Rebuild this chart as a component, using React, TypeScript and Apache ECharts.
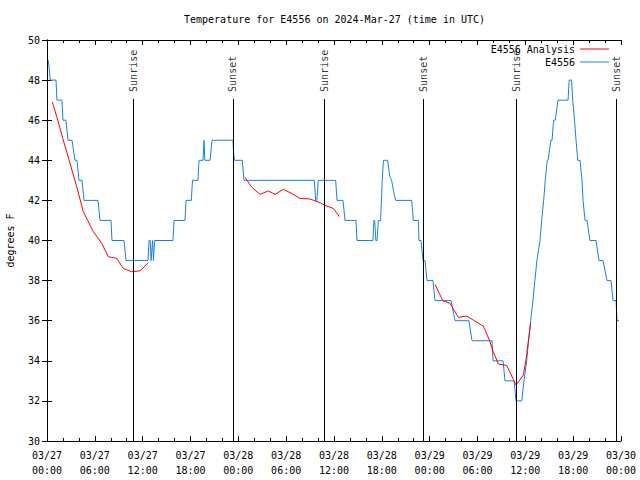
import React, { useEffect, useRef } from "react";
import * as echarts from "echarts";

const FONT = '"DejaVu Sans Mono", "Liberation Mono", monospace';

const titleText = "Temperature for E4556 on 2024-Mar-27 (time in UTC)";
const yAxisName = "degrees F";
const analysisName = "E4556 Analysis";
const obsName = "E4556";

const xTickLabels = [
  "03/27\n00:00", "03/27\n06:00", "03/27\n12:00", "03/27\n18:00",
  "03/28\n00:00", "03/28\n06:00", "03/28\n12:00", "03/28\n18:00",
  "03/29\n00:00", "03/29\n06:00", "03/29\n12:00", "03/29\n18:00",
  "03/30\n00:00",
];

// hours since 2024-03-27 00:00 UTC
const sunTimes = [10.79, 23.33, 34.75, 47.17, 58.83, 71.38];
const sunLabels = ["Sunrise", "Sunset", "Sunrise", "Sunset", "Sunrise", "Sunset"];

const obsData: [number, number][] = [
  [0.15, 49], [0.3, 48.5], [0.4, 48], [1.13, 48], [1.25, 47], [1.88, 47], [2.0, 46], [2.38, 46],
  [2.63, 45], [3.14, 45], [3.51, 44], [3.76, 44], [4.01, 43], [4.39, 43], [4.64, 42], [6.4, 42],
  [6.65, 41], [8.03, 41], [8.15, 40], [9.66, 40], [9.91, 39], [12.67, 39], [12.8, 40], [12.95, 40],
  [13.05, 39], [13.25, 40], [13.35, 39], [13.5, 40], [15.8, 40], [15.93, 41], [17.31, 41], [17.44, 42],
  [18.1, 42], [18.25, 43], [18.94, 43], [19.07, 44], [19.57, 44], [19.69, 45], [19.8, 44], [20.45, 44],
  [20.7, 45], [23.33, 45], [23.4, 44.4], [23.5, 44], [24.5, 44], [24.71, 43], [33.53, 43], [33.7, 42],
  [33.85, 42], [34.03, 43], [36.21, 43], [36.38, 42], [37.13, 42], [37.38, 41], [38.76, 41], [38.89, 40],
  [40.89, 40], [41.0, 41], [41.1, 41], [41.25, 40], [41.4, 40], [41.56, 41], [41.85, 41], [41.95, 42],
  [42.05, 43], [42.2, 44], [42.73, 44], [42.85, 43.6], [43.0, 43.2], [43.23, 43], [43.45, 42.5], [43.74, 42],
  [45.75, 42], [45.95, 41], [46.58, 41], [46.66, 40], [46.91, 40], [47.17, 39], [47.42, 39], [47.67, 38],
  [48.42, 38], [48.67, 37], [50.68, 37], [51.18, 36], [52.93, 36], [53.31, 35], [55.82, 35], [55.95, 34],
  [57.2, 34], [57.45, 33], [58.58, 33], [58.83, 32], [59.55, 32], [59.83, 33], [60.17, 34], [60.4, 35],
  [60.67, 36], [60.95, 37], [61.2, 38], [61.45, 39], [61.84, 40], [62.05, 41], [62.3, 42], [62.5, 43],
  [62.75, 44], [62.85, 44], [63.2, 45], [63.35, 45], [63.55, 46], [63.75, 46], [64.1, 47], [65.36, 47],
  [65.5, 48], [65.8, 48], [65.94, 47], [66.17, 46], [66.36, 45], [66.57, 44], [66.86, 44], [67.11, 43],
  [67.24, 42], [67.49, 41], [67.74, 41], [68.1, 40], [68.87, 40], [69.24, 39], [69.74, 39], [70.25, 38],
  [70.75, 38], [71.0, 37], [71.38, 37], [71.5, 36], [71.75, 36],
];

const analysisData: ([number, number] | [number, null])[] = [
  [0.66, 46.91], [1.22, 46.18], [2.04, 45.01], [2.89, 43.85], [3.73, 42.68], [4.55, 41.44],
  [5.81, 40.44], [6.86, 39.86], [7.69, 39.19], [8.74, 39.11], [9.57, 38.61], [10.62, 38.44],
  [11.67, 38.49], [12.71, 38.89],
  [18, null],
  [24.84, 43.15], [25.68, 42.65], [26.72, 42.3], [27.76, 42.47], [28.6, 42.3], [29.64, 42.55],
  [30.69, 42.35], [31.74, 42.1], [32.99, 42.07], [34.25, 41.88], [35.09, 41.72], [35.91, 41.6],
  [36.67, 41.19],
  [42, null],
  [48.67, 37.81], [49.64, 37.0], [50.55, 36.87], [51.59, 36.17], [52.65, 36.23], [53.47, 36.03],
  [54.73, 35.73], [55.48, 35.04], [55.98, 34.45], [56.61, 33.84], [57.66, 33.77], [58.49, 33.08],
  [58.83, 32.79], [59.75, 33.29], [60.08, 34.04], [60.67, 35.9],
];

const Y_MIN = 30;
const Y_MAX = 50;
const SUN_LINE_TOP = 47.06;
const SUN_LABEL_BASE = 47.41;

const RED = "#ff0000";
const BLUE = "#1a80e6";

export default function App() {
  const ref = useRef<HTMLDivElement>(null);

  useEffect(() => {
    if (!ref.current) return;
    const chart = echarts.init(ref.current, undefined, { renderer: "svg" });
    const txt = { fontFamily: FONT, fontSize: 10, color: "#000" };
    const axisLine = { show: true, lineStyle: { color: "#000", width: 1 } };

    const xBase = {
      type: "value" as const,
      min: 0,
      max: 72,
      interval: 6,
      axisLine,
      axisTick: { show: true, inside: true, length: 5, lineStyle: { color: "#000" } },
      minorTick: { show: true, splitNumber: 3, length: 3, lineStyle: { color: "#000" } },
      splitLine: { show: false },
      minorSplitLine: { show: false },
    };
    const yBase = {
      type: "value" as const,
      min: Y_MIN,
      max: Y_MAX,
      interval: 2,
      axisLine,
      axisTick: { show: true, inside: true, length: 5, lineStyle: { color: "#000" } },
      splitLine: { show: false },
    };

    const legendBase = {
      right: 31,
      padding: 0,
      itemWidth: 29,
      itemHeight: 1,
      icon: "rect",
      textStyle: txt,
      align: "right" as const,
    };

    chart.setOption({
      animation: false,
      backgroundColor: "#fff",
      title: {
        text: titleText,
        left: 184,
        top: 14,
        padding: 0,
        textStyle: { ...txt, fontWeight: "normal" },
      },
      legend: [
        { ...legendBase, data: [analysisName], top: 44 },
        { ...legendBase, data: [obsName], top: 57 },
      ],
      grid: {
        left: 47,
        top: 40,
        width: 574,
        height: 401,
        containLabel: false,
        outerBoundsMode: "none",
      },
      xAxis: [
        {
          ...xBase,
          position: "bottom",
          axisLabel: {
            ...txt,
            margin: 7,
            lineHeight: 15,
            formatter: (v: number) => xTickLabels[Math.round(v / 6)] ?? "",
          },
        },
        { ...xBase, position: "top", axisLabel: { show: false } },
      ],
      yAxis: [
        {
          ...yBase,
          position: "left",
          name: yAxisName,
          nameLocation: "middle",
          nameGap: 32,
          nameTextStyle: txt,
          axisLabel: { ...txt, margin: 7 },
        },
        { ...yBase, position: "right", axisLabel: { show: false } },
      ],
      series: [
        {
          name: analysisName,
          type: "line",
          data: analysisData,
          symbol: "none",
          connectNulls: false,
          lineStyle: { color: RED, width: 1 },
          itemStyle: { color: RED },
          z: 3,
        },
        {
          name: obsName,
          type: "line",
          data: obsData,
          symbol: "none",
          lineStyle: { color: BLUE, width: 1 },
          itemStyle: { color: BLUE },
          z: 2,
        },
        {
          name: "sun",
          type: "scatter",
          symbolSize: 0,
          silent: true,
          data: sunTimes.map((h, i) => [h, SUN_LABEL_BASE, sunLabels[i]]),
          label: {
            show: true,
            formatter: (p: any) => p.value[2],
            position: [0, 0],
            rotate: 90,
            align: "left",
            verticalAlign: "middle",
            ...txt,
          },
          markLine: {
            silent: true,
            symbol: ["none", "none"],
            label: { show: false },
            lineStyle: { color: "#000", width: 1, type: "solid" },
            data: sunTimes.map((h) => [
              { coord: [h, Y_MIN] },
              { coord: [h, SUN_LINE_TOP] },
            ]),
          },
          z: 1,
        },
      ],
    });
    return () => chart.dispose();
  }, []);

  return (
    <div
      ref={ref}
      style={{ position: "fixed", left: 0, top: 0, width: 640, height: 480, background: "#fff" }}
    />
  );
}
